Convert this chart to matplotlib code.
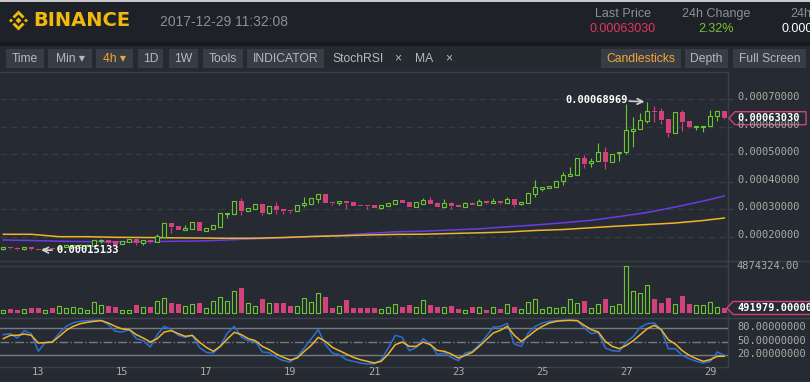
import matplotlib
matplotlib.use("Agg")
import matplotlib.pyplot as plt
from matplotlib.patches import Rectangle, Polygon
import numpy as np

W, H = 810, 382
BG = "#262b33"
HEADER = "#1e2228"
GREEN = "#6cc630"
RED = "#d4417a"
GOLD = "#f0b429"
PURPLE = "#6a3ce6"
BLUE = "#2a6fd6"
GRID = "#363b44"
LINE = "#3b4048"
AXTXT = "#a9ada3"
MONO = "DejaVu Sans Mono"

plt.rcParams["font.family"] = ["Liberation Sans", "DejaVu Sans"]

# BNB/BTC 4h candles, prices in satoshi (1e-8 BTC)
opens = [15440, 16280, 15910, 15440, 16280, 15550, 15370, 15910, 15730, 16280,
         16460, 16460, 16750, 16750, 18360, 18710, 18360, 17470, 18200, 19180,
         17630, 18820, 18200, 20020, 24880, 23900, 22450, 22920, 25350, 22190,
         22920, 23640, 28180, 28370, 32970, 29450, 30180, 31880, 28730, 31160,
         30070, 29710, 29450, 31410, 31880, 33840, 35520, 32610, 32250, 32970,
         32610, 31520, 31520, 31520, 30540, 31260, 32000, 33340, 32610, 30900,
         32000, 33340, 32360, 30900, 32360, 31520, 30900, 32360, 31630, 32870,
         32360, 32870, 32360, 33700, 31810, 32360, 35660, 37440, 37690, 38060,
         40130, 42050, 42520, 48470, 46660, 47490, 50650, 47240, 50290, 50650,
         58490, 59110, 61900, 65540, 65540, 62630, 57770, 65170, 61900, 59730,
         59940, 60200, 63720, 65540]
highs = [16400, 16460, 16100, 16400, 16400, 15700, 16050, 16000, 16550, 17100,
         17150, 17300, 17300, 18800, 19090, 18850, 18500, 18450, 19200, 19300,
         18800, 18950, 20990, 25000, 25100, 24050, 24150, 25350, 25500, 23300,
         24300, 28650, 28600, 33100, 33950, 30450, 32000, 32000, 31300, 32500,
         30200, 29850, 31650, 34320, 34080, 35650, 35650, 32750, 33100, 33100,
         32750, 31650, 31650, 31650, 31550, 32400, 33350, 33450, 32750, 32650,
         34060, 34320, 32500, 33610, 32500, 31650, 32500, 32500, 33700, 33000,
         33950, 33000, 34320, 33850, 32650, 35900, 40600, 38100, 38450, 40250,
         43610, 45420, 48600, 49780, 48470, 53920, 52690, 50100, 50800, 68300,
         63360, 64810, 68969, 67460, 66620, 62800, 65300, 66010, 62050, 60350,
         60350, 65900, 65650, 65650]
lows = [15300, 15690, 15370, 15300, 15300, 15133, 15250, 15400, 15600, 16150,
        16350, 16350, 16600, 16600, 17630, 17500, 17000, 17350, 18100, 16890,
        16890, 17850, 18050, 19900, 21250, 22300, 22300, 22800, 22050, 22050,
        22800, 23500, 26700, 28250, 28040, 29300, 30050, 27890, 28150, 28150,
        28260, 28730, 29300, 30900, 31750, 32140, 32250, 31630, 31410, 30070,
        31150, 31150, 30070, 30400, 29960, 31150, 31900, 32150, 30800, 30800,
        31900, 31750, 30800, 30320, 29960, 30700, 30800, 31500, 31500, 32050,
        32250, 32050, 32250, 30900, 31700, 32250, 34320, 36600, 37550, 37950,
        38780, 41900, 42400, 44950, 45210, 47350, 44480, 47100, 47490, 50040,
        52680, 58950, 61400, 61760, 60930, 56310, 57600, 58380, 59600, 58750,
        58020, 60050, 62120, 62900]
closes = [16170, 15800, 15440, 16280, 15440, 15190, 15910, 15550, 16460, 17000,
          17000, 17180, 17180, 18710, 18710, 17630, 17110, 18360, 19070, 17630,
          18710, 17980, 20270, 24880, 23540, 22450, 23170, 25240, 22190, 23170,
          24150, 28510, 28510, 32970, 29340, 30320, 31880, 28730, 31160, 29820,
          29450, 29340, 31520, 32250, 33950, 35520, 32360, 32250, 32970, 32360,
          31260, 31260, 31160, 30540, 31410, 32250, 33230, 32250, 30900, 32500,
          33340, 31880, 30900, 32250, 31160, 30800, 32360, 31630, 32870, 32140,
          32870, 32140, 33700, 31520, 32500, 35770, 37980, 37980, 38310, 40130,
          42300, 42780, 48470, 46510, 47490, 50650, 47240, 49930, 50650, 58640,
          59110, 62270, 65540, 65280, 62490, 57660, 65170, 61760, 59730, 60200,
          60200, 63720, 65540, 63030]
# volume in thousands
volumes = [240, 387, 282, 387, 491, 491, 240, 491, 658, 491,
           554, 491, 240, 1076, 763, 700, 596, 240, 240, 805,
           596, 596, 1181, 1494, 1014, 909, 658, 867, 1014, 449,
           1181, 1599, 1181, 2330, 2581, 972, 658, 1432, 972, 1014,
           1014, 700, 658, 1494, 1076, 2017, 1641, 491, 658, 1327,
           491, 491, 491, 491, 345, 554, 867, 596, 805, 554,
           1285, 805, 596, 554, 700, 387, 240, 596, 554, 314,
           554, 418, 867, 596, 345, 1076, 1390, 345, 627, 449,
           627, 1390, 972, 1223, 449, 867, 1432, 658, 867, 4874.324,
           2330, 2059, 2957, 1432, 1014, 1536, 867, 1745, 909, 763,
           763, 1076, 554, 491.979]
# moving averages, read at every 4th candle
ma_idx = [0, 4, 8, 12, 16, 20, 24, 28, 32, 36, 40, 44, 48, 52, 56, 60, 64,
          68, 72, 76, 80, 84, 88, 92, 96, 100, 103]
ma_gold = [20890, 20890, 20020, 20020, 19800, 19730, 19620, 19540, 19440, 19470,
           19730, 20090, 20340, 20630, 20850, 20920, 21180, 21430, 21720, 22270,
           22630, 23280, 23900, 24440, 24990, 25900, 26800]
ma_purple = [18820, 18640, 18380, 18240, 18200, 18200, 18350, 18450, 18820, 19260,
             19620, 20090, 20520, 21180, 21790, 22010, 22450, 22880, 23610, 24260,
             25060, 25970, 27350, 28800, 30800, 32970, 34790]
stoch_k = [65.9, 68.1, 58.4, 74.7, 68.1, 28.8, 48.8, 49.5, 69.6, 84.4,
           92.5, 95.5, 97.0, 97.7, 97.7, 88.1, 73.3, 71.8, 77.0, 57.0,
           52.5, 38.4, 65.9, 84.4, 77.0, 64.4, 59.9, 64.4, 37.7, 26.6,
           25.1, 39.9, 69.6, 84.4, 60.7, 52.5, 51.0, 27.3, 25.8, 15.5,
           8.0, 5.1, 17.7, 36.2, 57.0, 77.0, 43.6, 25.1, 21.4, 10.3,
           6.6, 2.9, 0.6, 1.2, 10.3, 36.2, 64.4, 59.9, 30.3, 37.7,
           57.0, 45.1, 21.4, 25.1, 15.5, 8.0, 25.1, 28.8, 43.6, 62.1,
           82.9, 83.6, 91.0, 45.1, 39.9, 69.6, 84.4, 91.8, 95.5, 97.0,
           97.7, 97.7, 97.0, 80.7, 68.1, 71.0, 36.2, 30.3, 28.8, 49.5,
           62.1, 82.2, 90.3, 91.8, 77.0, 34.7, 34.7, 19.9, 12.5, 6.6,
           2.9, 6.6, 27.3, 19.9]
stoch_d = [57.0, 64.4, 64.4, 67.3, 64.4, 47.3, 48.1, 49.5, 62.1, 75.5,
           84.4, 90.3, 93.3, 95.5, 97.0, 91.8, 84.4, 78.4, 77.0, 65.9,
           58.4, 49.5, 57.0, 71.8, 74.7, 68.1, 62.1, 64.4, 49.5, 37.7,
           28.8, 39.9, 56.2, 71.0, 65.9, 57.0, 52.5, 39.9, 32.5, 22.9,
           15.5, 9.5, 14.0, 28.8, 42.1, 59.9, 51.0, 37.7, 30.3, 22.9,
           15.5, 10.3, 6.6, 2.9, 6.6, 22.9, 43.6, 49.5, 39.9, 39.9,
           49.5, 43.6, 31.0, 28.8, 22.9, 14.0, 19.9, 26.6, 39.9, 54.7,
           69.6, 75.5, 84.4, 64.4, 51.0, 62.1, 74.7, 84.4, 91.8, 95.5,
           97.0, 97.7, 97.0, 86.6, 77.0, 71.8, 51.0, 39.9, 34.7, 42.1,
           52.5, 65.9, 79.2, 86.6, 77.0, 54.7, 45.1, 30.3, 19.9, 12.5,
           6.6, 10.3, 17.7, 17.7]
price_ticks = [20000, 30000, 40000, 50000, 60000, 70000]
stoch_levels = [80, 50, 20]
day_labels = [13, 15, 17, 19, 21, 23, 25, 27, 29]

fig = plt.figure(figsize=(W / 100, H / 100), dpi=100, facecolor=BG)


def overlay(z):
    ax = fig.add_axes([0, 0, 1, 1], zorder=z)
    ax.set_xlim(0, W)
    ax.set_ylim(H, 0)
    ax.axis("off")
    return ax


def px_axes(x0, y0, x1, y1, z=2):
    ax = fig.add_axes([x0 / W, 1 - y1 / H, (x1 - x0) / W, (y1 - y0) / H], zorder=z)
    ax.set_facecolor("none")
    for s in ax.spines.values():
        s.set_visible(False)
    ax.set_xticks([])
    ax.set_yticks([])
    return ax


bg = overlay(0)
top = overlay(10)

# header + toolbar
bg.add_patch(Rectangle((0, 0), W, 42, color=HEADER, lw=0))
bg.add_patch(Rectangle((0, 0), W, 1.5, color="#c8c8c8", lw=0))
bg.add_patch(Rectangle((0, 42), W, 4, color="#16191d", lw=0))
bg.add_patch(Rectangle((0, 46), W, 26, color="#252930", lw=0))

cx, cy = 18.5, 20.5
logo = [
    [(cx, cy - 3), (cx + 3, cy), (cx, cy + 3), (cx - 3, cy)],
    [(cx - 7.5, cy - 2), (cx - 5.5, cy), (cx - 7.5, cy + 2), (cx - 9.5, cy)],
    [(cx + 7.5, cy - 2), (cx + 9.5, cy), (cx + 7.5, cy + 2), (cx + 5.5, cy)],
    [(cx, cy - 10), (cx + 6, cy - 4), (cx + 4, cy - 2), (cx, cy - 6), (cx - 4, cy - 2), (cx - 6, cy - 4)],
    [(cx, cy + 10), (cx + 6, cy + 4), (cx + 4, cy + 2), (cx, cy + 6), (cx - 4, cy + 2), (cx - 6, cy + 4)],
]
for pts in logo:
    bg.add_patch(Polygon(pts, closed=True, color="#f0b90b", lw=0))
bg.text(33, 21, "BINANCE", color="#f0b90b", fontsize=14, fontweight="bold",
        family="DejaVu Sans", va="center", ha="left")
bg.text(160, 22, "2017-12-29 11:32:08", color="#8b9098", fontsize=10, va="center")
bg.text(623, 14, "Last Price", color="#8b9098", fontsize=9, va="center", ha="center")
bg.text(623, 29, "0.00063030", color="#e43464", fontsize=9, va="center", ha="center")
bg.text(716, 14, "24h Change", color="#8b9098", fontsize=9, va="center", ha="center")
bg.text(716, 29, "2.32%", color="#76c433", fontsize=9, va="center", ha="center")
bg.text(790, 14, "24h", color="#8b9098", fontsize=9, va="center")
bg.text(782, 29, "0.000", color="white", fontsize=9, va="center")

buttons = [("Time", 6, 44), ("Min ▾", 48, 92), ("4h ▾", 96, 133), ("1D", 138, 163),
           ("1W", 169, 198), ("Tools", 203, 243), ("INDICATOR", 247, 324),
           ("Candlesticks", 601, 681), ("Depth", 685, 728), ("Full Screen", 733, 806)]
for label, x0, x1 in buttons:
    bg.add_patch(Rectangle((x0, 49.3), x1 - x0, 19, color="#383d45", lw=0))
    tc = "#f0a732" if label in ("4h ▾", "Candlesticks") else "#b4b8bf"
    bg.text((x0 + x1) / 2, 58.8, label, color=tc, fontsize=8.7, va="center", ha="center")
for label, x, ha in [("StochRSI", 332, "left"), ("×", 398, "center"),
                     ("MA", 415, "left"), ("×", 449, "center")]:
    bg.text(x, 58.8, label, color="#b4b8bf", fontsize=8.7, va="center", ha=ha)

# panel frame lines
bg.plot([0, 728], [72, 72], color=LINE, lw=1)
bg.plot([0, W], [261.3, 261.3], color=LINE, lw=1)
bg.plot([0, 728], [266.3, 266.3], color=LINE, lw=1)
bg.plot([0, W], [317.5, 317.5], color=LINE, lw=1)
bg.plot([0, 728], [366.5, 366.5], color=LINE, lw=1)
bg.plot([728, 728], [72, 366.5], color=LINE, lw=1)

XL = (-0.47, 103.53)
ax_p = px_axes(0, 72, 728, 261)
ax_p.set_xlim(*XL)
ax_p.set_ylim(11198, 79800)
ax_v = px_axes(0, 262, 728, 318)
ax_v.set_xlim(*XL)
ax_v.set_ylim(-557, 5326)
ax_s = px_axes(0, 318, 728, 366)
ax_s.set_xlim(*XL)
ax_s.set_ylim(-3.8, 102.9)

idx = np.arange(len(opens))
o = np.array(opens, float)
c = np.array(closes, float)
hi = np.array(highs, float)
lo = np.array(lows, float)
vol = np.array(volumes, float)
up = c >= o
b_lo = np.minimum(o, c)
b_hi = np.maximum(o, c)
b_h = np.maximum(b_hi - b_lo, 260)
cols = np.where(up, GREEN, RED)

for v in price_ticks:
    ax_p.axhline(v, color=GRID, lw=1, dashes=(4.5, 3), zorder=0.5)
ax_p.plot(ma_idx, ma_purple, color=PURPLE, lw=1.1, zorder=2)
ax_p.plot(ma_idx, ma_gold, color=GOLD, lw=1.1, zorder=2)
ax_p.vlines(idx, lo, b_lo, colors=cols, lw=0.8, zorder=3)
ax_p.vlines(idx, b_lo + b_h, hi, colors=cols, lw=0.8, zorder=3)
ax_p.bar(idx[up], b_h[up], bottom=b_lo[up], width=0.58, facecolor=BG,
         edgecolor=GREEN, lw=0.8, zorder=3)
ax_p.bar(idx[~up], b_h[~up], bottom=b_lo[~up], width=0.7, color=RED, lw=0, zorder=3)

imax = int(np.argmax(hi))
imin = int(np.argmin(lo))
arrow = dict(arrowstyle="->", color="#d0d0d0", lw=1.2, shrinkA=0, shrinkB=2)
ax_p.annotate("", xy=(imax, hi[imax]), xytext=(-13, 0.5), textcoords="offset points",
              arrowprops=arrow, zorder=6)
ax_p.annotate(f"{hi[imax] / 1e8:.8f}", xy=(imax, hi[imax]), xytext=(-14, 1),
              textcoords="offset points", ha="right", va="center", color="white",
              fontsize=7.5, fontweight="bold", family=MONO, zorder=6)
ax_p.annotate("", xy=(imin, lo[imin]), xytext=(10, 0), textcoords="offset points",
              arrowprops=arrow, zorder=6)
ax_p.annotate(f"{lo[imin] / 1e8:.8f}", xy=(imin, lo[imin]), xytext=(13, 0),
              textcoords="offset points", ha="left", va="center", color="white",
              fontsize=7.5, fontweight="bold", family=MONO, zorder=6)

ax_v.bar(idx[up], vol[up], width=0.58, facecolor=BG, edgecolor=GREEN, lw=0.8)
ax_v.bar(idx[~up], vol[~up], width=0.7, color=RED, lw=0)

ax_s.axhline(80, color="#767b82", lw=1)
ax_s.axhline(20, color="#767b82", lw=1)
ax_s.axhline(50, color="#767b82", lw=1, ls="-.")
ax_s.plot(idx, stoch_k, color=BLUE, lw=1.1)
ax_s.plot(idx, stoch_d, color=GOLD, lw=1.1)


def py(ax, v):
    return H - ax.transData.transform((0, v))[1]


def px(ax, i):
    return ax.transData.transform((i, 0))[0]


# right-hand scale labels
for v in price_ticks:
    y = py(ax_p, v)
    top.plot([728, 732], [y, y], color=LINE, lw=1)
    top.text(737, y - 2, f"{v / 1e8:.8f}", color=AXTXT, fontsize=7.5, family=MONO, va="center")

y = py(ax_p, closes[-1])
top.add_patch(Polygon([(729, y), (735, y - 6.5), (806, y - 6.5), (806, y + 6.5), (735, y + 6.5)],
                      closed=True, facecolor=BG, edgecolor=RED, lw=1))
top.text(737, y, f"{closes[-1] / 1e8:.8f}", color="white", fontsize=7.5, fontweight="bold",
         family=MONO, va="center")

top.text(736, py(ax_v, max(volumes)), f"{max(volumes) * 1000:.2f}", color=AXTXT,
         fontsize=7.5, family=MONO, va="center")
y = py(ax_v, volumes[-1])
top.add_patch(Polygon([(727, y), (733, y - 6.5), (815, y - 6.5), (815, y + 6.5), (733, y + 6.5)],
                      closed=True, facecolor=BG, edgecolor=RED, lw=1))
top.text(737, y, f"{volumes[-1] * 1000:.6f}", color="white", fontsize=7.5, fontweight="bold",
         family=MONO, va="center")

for v in stoch_levels:
    top.text(737, py(ax_s, v) - 1, f"{v:.8f}", color=AXTXT, fontsize=7.5, family=MONO, va="center")

for d in day_labels:
    top.text(px(ax_s, 5 + (d - 13) * 6), 372, str(d), color=AXTXT, fontsize=7.5,
             family=MONO, va="center", ha="center")

fig.savefig("out.png", dpi=100, facecolor=BG)
